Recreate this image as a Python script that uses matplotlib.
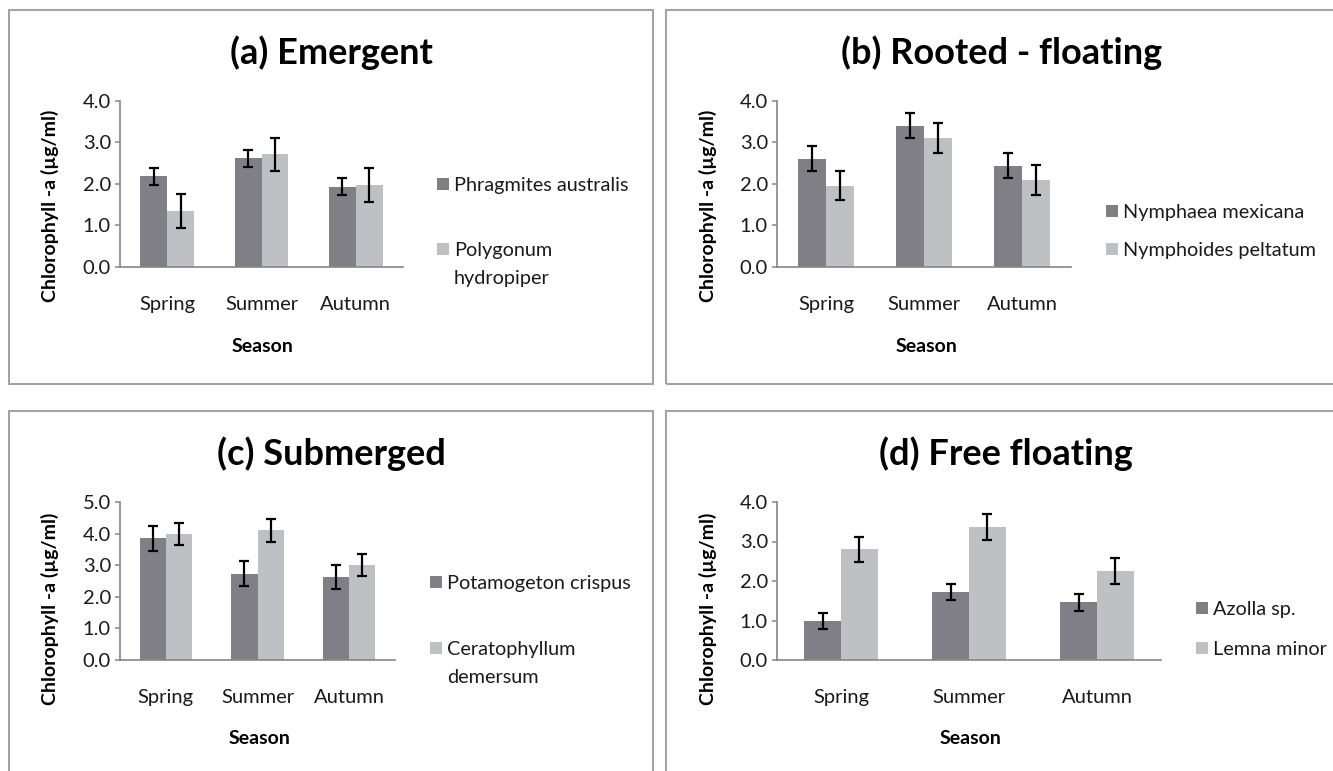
import numpy as np
import matplotlib
matplotlib.use("Agg")
import matplotlib.pyplot as plt
from matplotlib.patches import Rectangle

plt.rcParams['font.family'] = ['Lato', 'DejaVu Sans']

seasons = ['Spring', 'Summer', 'Autumn']

# (a) Emergent
phragmites = [2.18, 2.61, 1.93]
phragmites_err = [0.20, 0.20, 0.20]
polygonum = [1.35, 2.71, 1.97]
polygonum_err = [0.40, 0.40, 0.40]

# (b) Rooted - floating
nymphaea = [2.60, 3.40, 2.44]
nymphaea_err = [0.30, 0.30, 0.30]
nymphoides = [1.96, 3.10, 2.10]
nymphoides_err = [0.36, 0.36, 0.36]

# (c) Submerged
potamogeton = [3.85, 2.73, 2.63]
potamogeton_err = [0.39, 0.40, 0.39]
ceratophyllum = [3.99, 4.10, 3.02]
ceratophyllum_err = [0.36, 0.35, 0.35]

# (d) Free floating
azolla = [0.99, 1.72, 1.46]
azolla_err = [0.21, 0.21, 0.21]
lemna = [2.80, 3.37, 2.26]
lemna_err = [0.32, 0.33, 0.33]

DARK = '#7f7f85'
LIGHT = '#bfc0c4'
TXT = '#1a1a1a'
W, H = 1333, 771

fig = plt.figure(figsize=(W / 100, H / 100), dpi=100)


def px_axes(left, right, top, bottom):
    return fig.add_axes([left / W, 1 - bottom / H, (right - left) / W, (bottom - top) / H])


def frame(x0, y0, x1, y1):
    fig.add_artist(Rectangle((x0 / W, 1 - y1 / H), (x1 - x0) / W, (y1 - y0) / H,
                             transform=fig.transFigure, fill=False,
                             edgecolor='#a3a3a3', linewidth=1.5))


def panel(box, title, title_xy, ylab_xy, season_xy, ymax, s1, e1, s2, e2, legend):
    ax = px_axes(*box)
    x = np.arange(len(seasons))
    bw = 1 / 3.5
    ek = dict(ecolor='black', elinewidth=1.6, capsize=3.8, capthick=1.6)
    ax.bar(x - bw / 2, s1, bw, yerr=e1, color=DARK, error_kw=ek, zorder=2)
    ax.bar(x + bw / 2, s2, bw, yerr=e2, color=LIGHT, error_kw=ek, zorder=2)
    ax.set_xlim(-0.5, len(seasons) - 0.5)
    ax.set_ylim(0, ymax)
    ax.set_yticks(np.arange(0, ymax + 0.01, 1.0))
    ax.set_yticklabels(['%.1f' % v for v in np.arange(0, ymax + 0.01, 1.0)])
    ax.set_xticks(x)
    ax.set_xticklabels(seasons)
    for s in ['top', 'right']:
        ax.spines[s].set_visible(False)
    for s in ['left', 'bottom']:
        ax.spines[s].set_color('#868686')
        ax.spines[s].set_linewidth(1.2)
    ax.tick_params(axis='y', direction='out', length=3.5, width=1.1, color='#868686',
                   labelsize=14.5, pad=3, labelcolor=TXT)
    ax.tick_params(axis='x', length=0, labelsize=14.5, pad=21, labelcolor=TXT)

    fig.text(title_xy[0] / W, 1 - title_xy[1] / H, title, ha='center', va='center',
             fontsize=26, fontweight='bold', color='black')
    fig.text(ylab_xy[0] / W, 1 - ylab_xy[1] / H, 'Chlorophyll -a (µg/ml)', rotation=90,
             ha='center', va='center', fontsize=14, fontweight='bold')
    fig.text(season_xy[0] / W, 1 - season_xy[1] / H, 'Season', ha='center', va='center',
             fontsize=14, fontweight='bold')

    lx, entries = legend
    for (ly, label), col in zip(entries, [DARK, LIGHT]):
        fig.add_artist(Rectangle(((lx - 6) / W, 1 - (ly + 6) / H), 12 / W, 12 / H,
                                 transform=fig.transFigure, facecolor=col, edgecolor='none'))
        fig.text((lx + 11) / W, 1 - (ly - 7) / H, label, ha='left', va='top',
                 fontsize=14.3, linespacing=1.8, color=TXT)
    return ax


frame(9, 10, 653, 384)
frame(666, 10, 1345, 384)
frame(9, 411, 653, 790)
frame(666, 411, 1345, 790)

panel((120, 403, 100.7, 267), '(a) Emergent', (331, 53), (50, 206), (263, 347), 4,
      phragmites, phragmites_err, polygonum, polygonum_err,
      (443, [(184, 'Phragmites australis'), (249, 'Polygonum\nhydropiper')]))
panel((777, 1071, 100.7, 267), '(b) Rooted - floating', (1002, 53), (708, 206), (927, 347), 4,
      nymphaea, nymphaea_err, nymphoides, nymphoides_err,
      (1112, [(211, 'Nymphaea mexicana'), (249, 'Nymphoides peltatum')]))
panel((120, 395, 502, 660), '(c) Submerged', (331, 454), (50, 609), (260, 739), 5,
      potamogeton, potamogeton_err, ceratophyllum, ceratophyllum_err,
      (436, [(582, 'Potamogeton crispus'), (648, 'Ceratophyllum\ndemersum')]))
panel((777, 1161, 502, 660), '(d) Free floating', (1006, 454), (708, 609), (971, 739), 4,
      azolla, azolla_err, lemna, lemna_err,
      (1202, [(608, 'Azolla sp.'), (648, 'Lemna minor')]))

fig.savefig('out.png', dpi=100)
